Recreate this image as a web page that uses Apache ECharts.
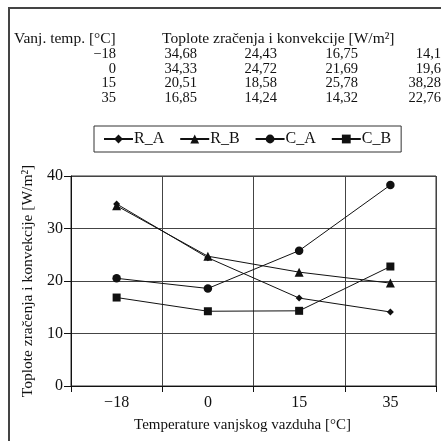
<!DOCTYPE html>
<html>
<head>
<meta charset="utf-8">
<script src="https://cdn.jsdelivr.net/npm/echarts@6/dist/echarts.min.js"></script>
<style>
  html, body { margin: 0; padding: 0; background: #fff; }
  #chart { width: 441px; height: 441px; }
</style>
</head>
<body>
<div id="chart"></div>
<script>
// temperatures (x categories)
var temps = ['\u221218', '0', '15', '35'];
var seriesNames = ['R_A', 'R_B', 'C_A', 'C_B'];
var rA = [34.68, 24.43, 16.75, 14.1];
var rB = [34.33, 24.72, 21.69, 19.6];
var cA = [20.51, 18.58, 25.78, 38.28];
var cB = [16.85, 14.24, 14.32, 22.76];
var symbols = ['diamond', 'triangle', 'circle', 'rect'];
var symbolSizes = [7, 9, 8.5, 8];
var yTicks = [0, 10, 20, 30, 40];

var FONT = '"Liberation Serif", "DejaVu Serif", serif';
var allData = [rA, rB, cA, cB];

// table above the chart (rows follow the series, as in the original)
var graphics = [{
    type: 'rect',
    shape: { x: 9, y: 8, width: 460, height: 460 },
    style: { fill: 'none', stroke: '#444', lineWidth: 2 },
    silent: true
}, {
    type: 'text', x: 14, y: 39,
    style: { text: 'Vanj. temp. [°C]', font: '15.5px ' + FONT, fill: '#111', textVerticalAlign: 'middle' }
}, {
    type: 'text', x: 162, y: 39,
    style: { text: 'Toplote zračenja i konvekcije [W/m²]', font: '15.5px ' + FONT, fill: '#111', textVerticalAlign: 'middle' }
}];
var colRight = [197, 277, 358, 441];
for (var i = 0; i < temps.length; i++) {
    var yy = 54 + i * 14.7;
    graphics.push({
        type: 'text', x: 116, y: yy,
        style: { text: temps[i], font: '14.5px ' + FONT, fill: '#111', textAlign: 'right', textVerticalAlign: 'middle' }
    });
    for (var j = 0; j < 4; j++) {
        graphics.push({
            type: 'text', x: colRight[j], y: yy,
            style: { text: String(allData[i][j]).replace('.', ','), font: '14.5px ' + FONT, fill: '#111', textAlign: 'right', textVerticalAlign: 'middle' }
        });
    }
}

var series = [];
for (var k = 0; k < seriesNames.length; k++) {
    series.push({
        name: seriesNames[k],
        type: 'line',
        data: allData[k],
        symbol: symbols[k],
        symbolSize: symbolSizes[k],
        showAllSymbol: true,
        lineStyle: { color: '#111', width: 1 },
        itemStyle: { color: '#111', borderWidth: 0 },
        emphasis: { disabled: true },
        z: 3
    });
}

var option = {
    backgroundColor: '#FFFFFF',
    animation: false,
    textStyle: { fontFamily: FONT },
    graphic: graphics,
    legend: {
        data: seriesNames,
        left: 94,
        top: 126,
        padding: [5, 10, 5, 9],
        itemWidth: 29,
        itemHeight: 11,
        itemGap: 15,
        borderColor: '#333',
        borderWidth: 1,
        textStyle: { color: '#111', fontSize: 16, fontFamily: FONT, padding: [0, 0, 0, -4] }
    },
    grid: {
        left: 71,
        right: 5,
        top: 176,
        bottom: 55,
        show: true,
        borderColor: '#333',
        borderWidth: 1
    },
    xAxis: {
        type: 'category',
        data: temps,
        boundaryGap: true,
        name: 'Temperature vanjskog vazduha [°C]',
        nameLocation: 'middle',
        nameGap: 32,
        nameTextStyle: { color: '#111', fontSize: 15, fontFamily: FONT, padding: [0, 22, 0, 0] },
        axisLine: { lineStyle: { color: '#111', width: 1 } },
        axisTick: { show: true, length: 6, lineStyle: { color: '#111' } },
        axisLabel: { color: '#111', fontSize: 16, fontFamily: FONT, margin: 9 },
        splitLine: { show: true, lineStyle: { color: '#444', width: 1 } }
    },
    yAxis: {
        type: 'value',
        min: yTicks[0],
        max: yTicks[yTicks.length - 1],
        interval: 10,
        name: 'Toplote zračenja i konvekcije [W/m²]',
        nameLocation: 'middle',
        nameGap: 26,
        nameTextStyle: { color: '#111', fontSize: 15.5, fontFamily: FONT },
        axisLine: { show: true, lineStyle: { color: '#111', width: 1 } },
        axisTick: { show: true, length: 7, lineStyle: { color: '#111' } },
        axisLabel: { color: '#111', fontSize: 16, fontFamily: FONT, margin: 8 },
        splitLine: { show: true, lineStyle: { color: '#444', width: 1 } }
    },
    series: series
};

var myChart = echarts.init(document.getElementById('chart'));
myChart.setOption(option);
</script>
</body>
</html>
